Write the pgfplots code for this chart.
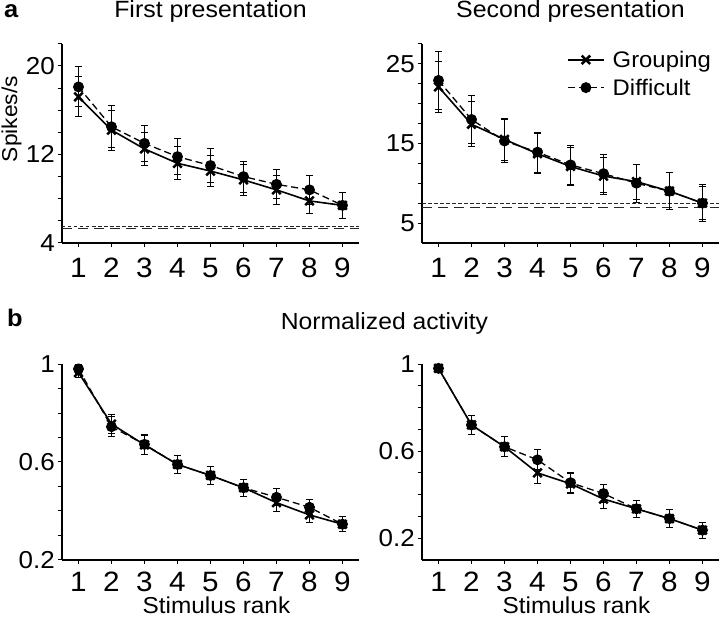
\documentclass[border=0pt]{standalone}
\usepackage{fontspec}
\setmainfont{Liberation Sans}[FakeStretch=1.06]
\usepackage{pgfplots}
\usepackage{pgfplotstable}
\pgfplotsset{compat=1.18}

\pgfplotstableread{
x g ge d de
1 17.2 1.8 18.1 1.8
2 14.2 1.8 14.5 1.9
3 12.5 1.5 13.0 1.6
4 11.2 1.5 11.8 1.6
5 10.5 1.4 11.0 1.5
6 9.7 1.4 10.0 1.4
7 8.8 1.3 9.3 1.3
8 7.8 1.1 8.8 1.3
9 7.4 1.2 7.4 1.2
}\tabAL

\pgfplotstableread{
x g ge d de
1 22.1 3.2 22.9 3.6
2 17.4 2.8 18.0 3.0
3 15.5 2.6 15.3 2.7
4 13.7 2.5 13.9 2.5
5 12.1 2.4 12.3 2.4
6 10.9 2.3 11.2 2.4
7 10.2 2.2 10.0 2.4
8 9.0 2.3 9.0 2.3
9 7.5 2.1 7.5 2.3
}\tabAR

\pgfplotstableread{
x g ge d de
1 0.965 0.02 0.98 0.02
2 0.755 0.04 0.744 0.04
3 0.67 0.04 0.672 0.04
4 0.59 0.035 0.59 0.035
5 0.545 0.035 0.545 0.035
6 0.495 0.035 0.495 0.035
7 0.434 0.035 0.456 0.035
8 0.384 0.03 0.415 0.03
9 0.346 0.03 0.346 0.03
}\tabBL

\pgfplotstableread{
x g ge d de
1 0.98 0.015 0.98 0.015
2 0.72 0.045 0.72 0.045
3 0.62 0.045 0.62 0.045
4 0.50 0.05 0.56 0.046
5 0.45 0.045 0.455 0.045
6 0.38 0.045 0.405 0.04
7 0.335 0.04 0.335 0.04
8 0.29 0.04 0.29 0.04
9 0.237 0.037 0.237 0.037
}\tabBR

\pgfplotsset{
  panel/.style={
    scale only axis, width=297pt, anchor=south west,
    axis lines*=left, xmin=0.5, xmax=9.5, xtick={1,...,9},
    tick align=outside, major tick length=4pt, minor tick length=4pt,
    axis line style={line width=1.4pt, black},
    tick style={line width=1pt, black},
    /pgf/number format/assume math mode=true,
    yticklabel style={font=\fontsize{24.5}{26}\selectfont, inner sep=0pt, xshift=-3pt},
    xticklabel style={font=\fontsize{28}{30}\selectfont, inner sep=0pt},
    every axis title/.style={font=\fontsize{23.5}{25}\selectfont, at={(axis description cs:0.5,1)}, anchor=base, yshift=25.75pt},
    every axis x label/.style={font=\fontsize{23}{24}\selectfont, at={(axis description cs:0.52,0)}, anchor=base, yshift=-54pt, inner sep=0pt},
    clip=false,
    legend image code/.code={\draw[mark repeat=2, mark phase=2, ##1] plot coordinates {(0pt,0pt) (18pt,0pt) (36pt,0pt)};},
  },
  grp/.style={black, solid, line width=1.6pt, mark=x, mark size=6pt, mark options={solid, line width=2.5pt},
    error bars/.cd, y dir=both, y explicit, error bar style={line width=1pt, solid}, error mark options={rotate=90, mark size=3.5pt, line width=1pt, solid}},
  dif/.style={black, line width=1.3pt, dash pattern=on 7pt off 4pt, mark=*, mark size=4.8pt, mark options={solid},
    error bars/.cd, y dir=both, y explicit, error bar style={line width=1pt, solid}, error mark options={rotate=90, mark size=3.5pt, line width=1pt, solid}},
  base1/.style={black!85, line width=1.1pt, dash pattern=on 3.5pt off 2.5pt, forget plot},
  base2/.style={black!85, line width=1.1pt, dash pattern=on 10pt off 6pt, forget plot},
}

\begin{document}
\begin{tikzpicture}[x=1pt,y=1pt]
\useasboundingbox (0,0) rectangle (720,618);

% panel a left
\begin{axis}[panel, at={(62pt,375pt)}, height=199.25pt,
  ymin=4, ymax=22, ytick={4,12,20}, minor ytick={6,8,10,14,16,18,22},
  xticklabel style={yshift=-11pt},
  title={First presentation},
  ylabel={Spikes/s},
  every axis y label/.style={font=\fontsize{21.5}{23}\selectfont, at={(axis description cs:-0.1515,0.622)}, anchor=base, rotate=90}]
\addplot[base1] coordinates {(0.5,5.5) (9.5,5.5)};
\addplot[base2] coordinates {(0.5,5.3) (9.5,5.3)};
\addplot[dif] table[x=x, y=d, y error=de]{\tabAL};
\addplot[grp] table[x=x, y=g, y error=ge]{\tabAL};
\end{axis}

% panel a right
\begin{axis}[panel, at={(422pt,375pt)}, height=199.25pt,
  ymin=2.5, ymax=27.5, ytick={5,15,25}, minor ytick={7.5,10,12.5,17.5,20,22.5,27.5},
  xticklabel style={yshift=-11pt},
  title={Second presentation},
  legend style={draw=none, fill=none, at={(axis description cs:0.488,0.965)}, anchor=north west,
    inner sep=0pt, row sep=10pt, column sep=8pt, font=\fontsize{22.5}{24}\selectfont, nodes={inner sep=0pt}},
  legend cell align=left]
\addplot[base1] coordinates {(0.5,7.4) (9.5,7.4)};
\addplot[base2] coordinates {(0.5,7.0) (9.5,7.0)};
\addplot[grp] table[x=x, y=g, y error=ge]{\tabAR};
\addlegendentry{Grouping}
\addplot[dif] table[x=x, y=d, y error=de]{\tabAR};
\addlegendentry{Difficult}
\end{axis}

% panel b left
\begin{axis}[panel, at={(62pt,58pt)}, height=196pt,
  ymin=0.2, ymax=1, ytick={0.2,0.6,1}, minor ytick={0.3,0.4,0.5,0.7,0.8,0.9},
  xticklabel style={yshift=-8pt},
  xlabel={Stimulus rank}]
\addplot[dif] table[x=x, y=d, y error=de]{\tabBL};
\addplot[grp] table[x=x, y=g, y error=ge]{\tabBL};
\end{axis}

% panel b right
\begin{axis}[panel, at={(422pt,58pt)}, height=196pt,
  ymin=0.1, ymax=1, ytick={0.2,0.6,1}, minor ytick={0.3,0.4,0.5,0.7,0.8,0.9},
  xticklabel style={yshift=-8pt},
  xlabel={Stimulus rank}]
\addplot[dif] table[x=x, y=d, y error=de]{\tabBR};
\addplot[grp] table[x=x, y=g, y error=ge]{\tabBR};
\end{axis}

\node[anchor=base west, inner sep=0pt, font=\bfseries\fontsize{24}{26}\selectfont] at (4,600) {a};
\node[anchor=base west, inner sep=0pt, font=\bfseries\fontsize{24}{26}\selectfont] at (7,291) {b};
\node[anchor=base, inner sep=0pt, font=\fontsize{23.3}{25}\selectfont] at (384.5,288) {Normalized activity};
\end{tikzpicture}
\end{document}
